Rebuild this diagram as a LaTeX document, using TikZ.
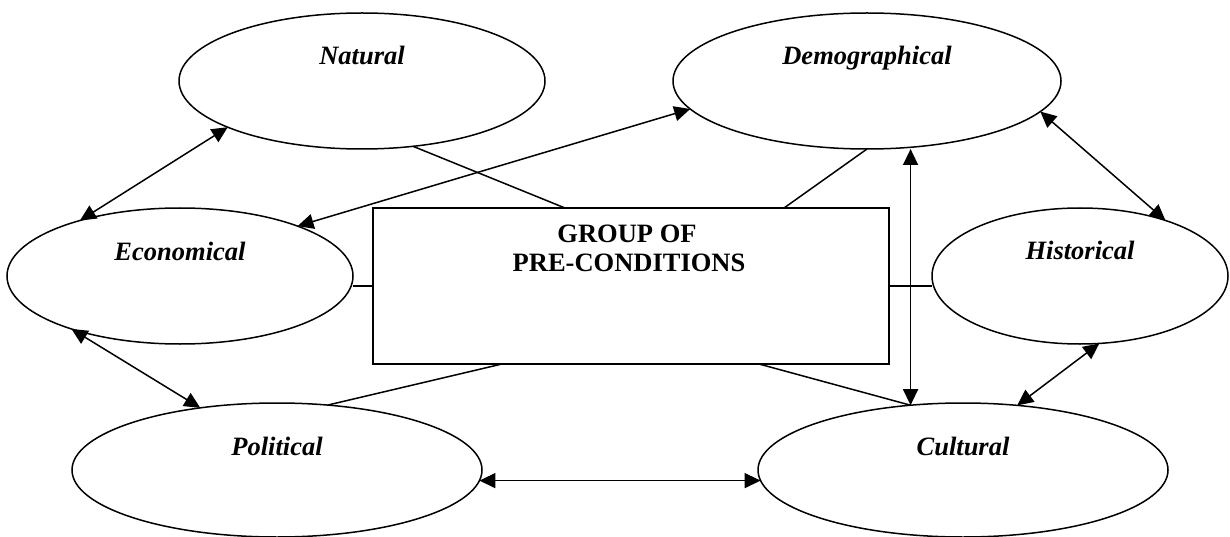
\documentclass[tikz,border=0pt]{standalone}
\usepackage{fontspec}
\setmainfont{Liberation Serif}
\usetikzlibrary{shapes.geometric,arrows.meta}
\begin{document}
\begin{tikzpicture}[x=1pt,y=-1pt,
  line width=1.5pt,
  ell/.style={draw, ellipse, inner sep=0pt, outer sep=0pt},
  boxst/.style={draw, rectangle, inner sep=0pt, outer sep=0pt, minimum width=516pt, minimum height=156pt},
  lab/.style={font=\fontsize{26.5}{30}\selectfont\bfseries\itshape, anchor=base, inner sep=0pt},
  ttl/.style={font=\fontsize{26.5}{30}\selectfont\bfseries, anchor=base, inner sep=0pt},
  tip/.tip={Triangle[length=16pt,width=15pt]},
  dbl/.style={tip-tip}
]
\useasboundingbox (0,0) rectangle (1230,537);
% ellipses
\node[ell, minimum width=366pt, minimum height=136pt] (nat) at (362,81) {};
\node[ell, minimum width=388pt, minimum height=136pt] (dem) at (867,81) {};
\node[ell, minimum width=346pt, minimum height=136pt] (eco) at (180,276) {};
\node[ell, minimum width=296pt, minimum height=136pt] (his) at (1080,276) {};
\node[ell, minimum width=410pt, minimum height=134pt] (pol) at (277,470) {};
\node[ell, minimum width=410pt, minimum height=134pt] (cul) at (963,470) {};
\node[boxst] (box) at (631,286) {};
% labels
\node[lab] (tnat) at ([yshift=16pt]nat.center) {Natural};
\node[lab] (tdem) at ([yshift=16pt]dem.center) {Demographical};
\node[lab] (teco) at ([yshift=16pt]eco.center) {Economical};
\node[lab] (this) at ([yshift=17pt]his.center) {Historical};
\node[lab] (tpol) at ([yshift=15pt]pol.center) {Political};
\node[lab] (tcul) at ([yshift=15pt]cul.center) {Cultural};
\node[ttl] (t1) at ([xshift=-4pt,yshift=-35pt]box.north) {GROUP OF};
\node[ttl] (t2) at ([xshift=-2pt,yshift=-63pt]box.north) {PRE-CONDITIONS};
% connectors
\draw[dbl] (eco.151) -- (nat.199);
\draw[dbl] (eco.23) -- (dem.189.5);
\draw (nat.-52) -- ([xshift=-66pt]box.north);
\draw (dem.south) -- ([xshift=153pt]box.north);
\draw[dbl] (cul.129 |- dem.south) -- (cul.129);
\draw[dbl] (dem.-10) -- (his.33);
\draw (eco.east |- box.west) -- (box.west);
\draw (box.east) -- (his.west |- box.east);
\draw[dbl] (eco.206) -- (pol.141);
\draw (pol.52) -- ([xshift=-129pt]box.south);
\draw ([xshift=128pt]box.south) -- (cul.129);
\draw[dbl] (his.-74) -- (cul.50);
\draw[dbl] (pol.-3.4) -- (cul.183.4);
\end{tikzpicture}
\end{document}
